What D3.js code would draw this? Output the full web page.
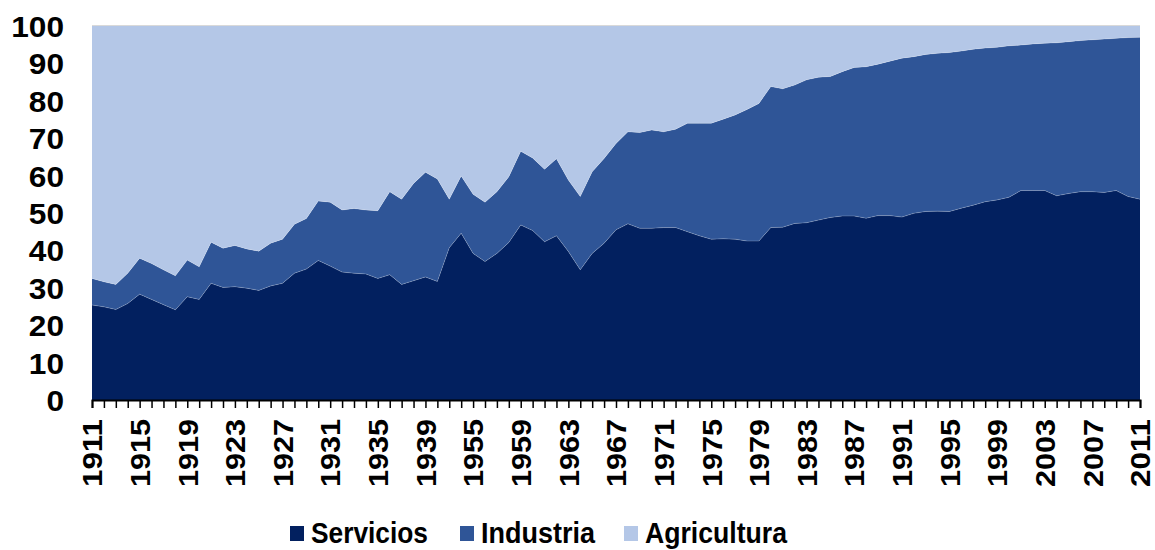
<!DOCTYPE html>
<html lang="es">
<head>
<meta charset="utf-8">
<script src="https://cdn.jsdelivr.net/npm/d3@7/dist/d3.min.js"></script>
<style>
body { margin: 0; background: #fff; }
svg text { font-family: "Liberation Sans", Arial, sans-serif; font-weight: bold; fill: #000; }
</style>
</head>
<body>
<script>

// categories (years); the three unlabeled points between 1939 and 1955
var years = ["1911","1912","1913","1914","1915","1916","1917","1918","1919","1920",
  "1921","1922","1923","1924","1925","1926","1927","1928","1929","1930",
  "1931","1932","1933","1934","1935","1936","1937","1938","1939",
  "1940","1945","1950",
  "1955","1956","1957","1958","1959","1960","1961","1962","1963","1964",
  "1965","1966","1967","1968","1969","1970","1971","1972","1973","1974",
  "1975","1976","1977","1978","1979","1980","1981","1982","1983","1984",
  "1985","1986","1987","1988","1989","1990","1991","1992","1993","1994",
  "1995","1996","1997","1998","1999","2000","2001","2002","2003","2004",
  "2005","2006","2007","2008","2009","2010","2011"];

var servicios = [25.4,24.9,24.2,25.8,28.3,26.9,25.5,24.1,27.6,26.9,
  31.2,30.1,30.3,29.9,29.3,30.5,31.2,33.9,35.0,37.3,
  35.8,34.2,33.9,33.7,32.5,33.5,30.9,31.9,32.9,
  31.7,40.7,44.6,
  39.2,37.0,39.2,42.1,46.8,45.3,42.3,43.9,39.7,34.8,
  39.2,41.9,45.5,47.1,45.9,45.9,46.1,46.1,45.0,43.9,
  43.0,43.1,43.0,42.5,42.5,46.1,46.2,47.2,47.4,48.1,
  48.8,49.2,49.2,48.6,49.3,49.3,48.9,49.9,50.4,50.5,
  50.4,51.3,52.1,53.0,53.5,54.2,56.0,56.0,56.0,54.6,
  55.2,55.7,55.7,55.5,56.0,54.4,53.7];

var industria = [7.1,6.7,6.7,8.1,9.6,9.6,9.3,9.1,9.8,8.7,
  11.0,10.5,11.0,10.5,10.5,11.4,11.8,13.1,13.5,15.9,
  17.1,16.6,17.3,17.1,18.1,22.2,22.8,26.0,28.0,
  27.4,13.0,15.3,
  15.8,15.9,16.5,17.6,19.7,19.4,19.4,20.6,19.1,19.6,
  21.8,22.7,23.1,24.6,25.6,26.3,25.6,26.3,29.0,30.1,
  31.0,32.0,33.2,35.2,36.8,37.7,37.0,37.0,38.2,38.2,
  37.7,38.6,39.7,40.5,40.5,41.3,42.5,41.9,42.0,42.2,
  42.5,42.0,41.7,41.1,40.8,40.5,38.9,39.2,39.4,40.9,
  40.6,40.4,40.6,41.0,40.7,42.5,43.3];

var agricultura = [67.5,68.4,69.1,66.1,62.1,63.5,65.2,66.8,62.6,64.4,
  57.8,59.4,58.7,59.6,60.2,58.1,57.0,53.0,51.5,46.8,
  47.1,49.2,48.8,49.2,49.4,44.3,46.3,42.1,39.1,
  40.9,46.3,40.1,
  45.0,47.1,44.3,40.3,33.5,35.3,38.3,35.5,41.2,45.6,
  39.0,35.4,31.4,28.3,28.5,27.8,28.3,27.6,26.0,26.0,
  26.0,24.9,23.8,22.3,20.7,16.2,16.8,15.8,14.4,13.7,
  13.5,12.2,11.1,10.9,10.2,9.4,8.6,8.2,7.6,7.3,
  7.1,6.7,6.2,5.9,5.7,5.3,5.1,4.8,4.6,4.5,
  4.2,3.9,3.7,3.5,3.3,3.1,3.0];

var sectores = ["Servicios", "Industria", "Agricultura"];
var colores = ["#02205f", "#2f5597", "#b4c7e7"];
var yTicks = [0,10,20,30,40,50,60,70,80,90,100];

var width = 1155, height = 550;
var plotLeft = 92, plotRight = 1140, plotTop = 26, plotBottom = 400;

var svg = d3.select("body").append("svg")
    .attr("width", width)
    .attr("height", height);

// table for the stack
var rows = years.map(function(yr, i) {
  return { year: yr, Servicios: servicios[i], Industria: industria[i], Agricultura: agricultura[i] };
});

var x = d3.scalePoint().domain(years).range([plotLeft, plotRight]);
var y = d3.scaleLinear().domain([0, 100]).range([plotBottom, plotTop]);
var color = d3.scaleOrdinal().domain(sectores).range(colores);

var series = d3.stack().keys(sectores)(rows);

var area = d3.area()
    .x(function(d) { return x(d.data.year); })
    .y0(function(d) { return y(d[0]); })
    .y1(function(d) { return y(d[1]); });

// top border of plot
svg.append("line")
    .attr("x1", plotLeft).attr("x2", plotRight)
    .attr("y1", y(100) - 0.5).attr("y2", y(100) - 0.5)
    .style("stroke", "#d9d9d9")
    .style("stroke-width", 1);

svg.selectAll("path.area")
    .data(series)
    .enter()
    .append("path")
    .attr("class", "area")
    .attr("d", area)
    .style("fill", function(d) { return color(d.key); })
    .style("stroke", "none");

// thin light edge on the top of each band (like the original)
var edge = d3.line()
    .x(function(d) { return x(d.data.year); })
    .y(function(d) { return y(d[1]); });
svg.selectAll("path.edge")
    .data(series.slice(0, 2))
    .enter()
    .append("path")
    .attr("class", "edge")
    .attr("d", edge)
    .style("fill", "none")
    .style("stroke", "#ffffff")
    .style("stroke-opacity", 0.25)
    .style("stroke-width", 0.8);

// y axis (labels only)
var yAxis = svg.append("g")
    .attr("transform", "translate(" + plotLeft + ",0)")
    .call(d3.axisLeft(y).tickValues(yTicks).tickSize(0).tickPadding(28));
yAxis.select(".domain").remove();
yAxis.selectAll("text")
    .attr("dy", "0.36em")
    .style("font-size", "29px")
    .each(function() {
      var n = this.textContent.length;
      d3.select(this).attr("textLength", 17.6 * n).attr("lengthAdjust", "spacingAndGlyphs");
    });

// x axis
var xAxis = svg.append("g")
    .attr("transform", "translate(0," + plotBottom + ")")
    .call(d3.axisBottom(x)
      .tickSize(8)
      .tickFormat(function(d, i) { return i % 4 === 0 ? d : ""; }));
xAxis.select(".domain")
    .style("stroke", "#000")
    .style("stroke-width", 2);
xAxis.selectAll(".tick line")
    .style("stroke", "#000")
    .style("stroke-width", 1.5);
xAxis.selectAll("text")
    .attr("transform", "rotate(-90)")
    .attr("x", -19)
    .attr("y", 0)
    .attr("dy", "0.36em")
    .attr("text-anchor", "end")
    .style("font-size", "27px")
    .each(function() {
      if (this.textContent) {
        d3.select(this).attr("textLength", 68).attr("lengthAdjust", "spacingAndGlyphs");
      }
    });

// legend
var legX = [290, 460, 624];
var legW = [117, 114, 142];
var legend = svg.append("g");
sectores.forEach(function(k, i) {
  legend.append("rect")
    .attr("x", legX[i]).attr("y", 526)
    .attr("width", 14).attr("height", 15)
    .style("fill", color(k));
  legend.append("text")
    .attr("x", legX[i] + 21).attr("y", 543)
    .attr("textLength", legW[i])
    .attr("lengthAdjust", "spacingAndGlyphs")
    .style("font-size", "30px")
    .text(k);
});

</script>
</body>
</html>
